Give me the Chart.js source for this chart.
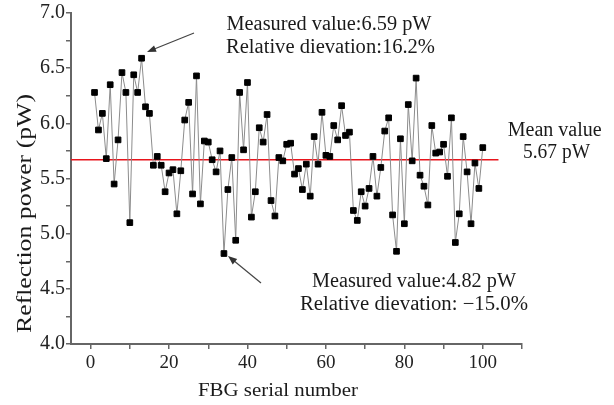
<!DOCTYPE html>
<html>
<head>
<meta charset="utf-8">
<script src="https://cdn.jsdelivr.net/npm/chart.js@4"></script>
<style>
  body { margin: 0; background: #fff; }
  #wrap { width: 614px; height: 405px; }
</style>
</head>
<body>
<div id="wrap"><canvas id="fbgChart" width="614" height="405"></canvas></div>
<script>
// FBG serial numbers 1..100 and measured reflection power (pW)
const serials = Array.from({ length: 100 }, (_, i) => i + 1);
const power = [
  6.28, 5.94, 6.09, 5.68, 6.35, 5.45, 5.85, 6.46, 6.28, 5.10,
  6.44, 6.28, 6.59, 6.15, 6.09, 5.62, 5.70, 5.62, 5.38, 5.55,
  5.58, 5.18, 5.57, 6.03, 6.19, 5.36, 6.43, 5.27, 5.84, 5.83,
  5.67, 5.56, 5.75, 4.82, 5.40, 5.69, 4.94, 6.28, 5.76, 6.37,
  5.15, 5.38, 5.96, 5.83, 6.08, 5.30, 5.16, 5.69, 5.66, 5.81,
  5.82, 5.54, 5.59, 5.40, 5.63, 5.34, 5.88, 5.63, 6.10, 5.71,
  5.70, 5.98, 5.85, 6.16, 5.89, 5.92, 5.21, 5.12, 5.38, 5.25,
  5.41, 5.70, 5.34, 5.60, 5.93, 6.05, 5.17, 4.84, 5.86, 5.09,
  6.17, 5.66, 6.41, 5.53, 5.43, 5.26, 5.98, 5.73, 5.74, 5.81,
  5.52, 6.05, 4.92, 5.18, 5.88, 5.56, 5.09, 5.64, 5.41, 5.78
];
const meanValue = 5.67;
const meanSpan = [-5, 104];
const xTicks = [0, 10, 20, 30, 40, 50, 60, 70, 80, 90, 100, 110];

const serif = '"Liberation Serif", "Times New Roman", serif';
const axisGray = '#666';

// draw text squeezed/stretched to a given width
function fitText(ctx, text, cx, y, w, size, rot) {
  ctx.save();
  ctx.font = size + 'px ' + serif;
  const m = ctx.measureText(text).width;
  ctx.translate(cx, y);
  if (rot) ctx.rotate(rot);
  ctx.scale(w / m, 1);
  ctx.textAlign = 'center';
  ctx.fillText(text, 0, 0);
  ctx.restore();
}

function arrow(ctx, x1, y1, x2, y2) {
  const a = Math.atan2(y2 - y1, x2 - x1);
  const hl = 9, hw = 3.5;
  ctx.save();
  ctx.strokeStyle = '#444';
  ctx.fillStyle = '#333';
  ctx.lineWidth = 1.2;
  ctx.beginPath();
  ctx.moveTo(x1, y1);
  ctx.lineTo(x2 - Math.cos(a) * hl * 0.8, y2 - Math.sin(a) * hl * 0.8);
  ctx.stroke();
  ctx.beginPath();
  ctx.moveTo(x2, y2);
  ctx.lineTo(x2 - Math.cos(a) * hl + Math.sin(a) * hw, y2 - Math.sin(a) * hl - Math.cos(a) * hw);
  ctx.lineTo(x2 - Math.cos(a) * hl - Math.sin(a) * hw, y2 - Math.sin(a) * hl + Math.cos(a) * hw);
  ctx.closePath();
  ctx.fill();
  ctx.restore();
}

const notes = {
  id: 'notes',
  afterDraw(chart) {
    const ctx = chart.ctx;
    ctx.fillStyle = '#1a1a1a';
    fitText(ctx, 'Measured value:6.59 pW', 329, 30, 205, 20);
    fitText(ctx, 'Relative dievation:16.2%', 330.5, 53, 209, 20);
    fitText(ctx, 'Measured value:4.82 pW', 414, 287, 204, 20);
    fitText(ctx, 'Relative dievation: \u221215.0%', 414, 310, 228, 20);
    fitText(ctx, 'Mean value', 554.7, 136, 94, 20);
    fitText(ctx, '5.67 pW', 556.5, 158, 67, 20);
    fitText(ctx, 'FBG serial number', 278, 396, 160, 19);
    fitText(ctx, 'Reflection power (pW)', 31, 213.5, 239, 20, -Math.PI / 2);
    arrow(ctx, 194, 33, 147, 52);
    arrow(ctx, 261, 283, 228, 256);
  }
};

new Chart(document.getElementById('fbgChart'), {
  type: 'line',
  data: {
    datasets: [{
      data: serials.map((s, i) => ({ x: s, y: power[i] })),
      borderColor: '#8c8c8c',
      borderWidth: 1,
      pointStyle: 'rect',
      pointRadius: 4,
      pointBackgroundColor: '#000',
      pointBorderColor: '#000',
      pointBorderWidth: 1,
      tension: 0
    }, {
      data: meanSpan.map(x => ({ x: x, y: meanValue })),
      borderColor: '#e8141c',
      borderWidth: 1.5,
      pointRadius: 0
    }]
  },
  options: {
    responsive: false,
    animation: false,
    layout: { padding: { top: 13, right: 92, left: 0, bottom: 0 } },
    plugins: { legend: { display: false }, tooltip: { enabled: false } },
    scales: {
      x: {
        type: 'linear',
        min: -5,
        max: 110,
        afterBuildTicks: s => { s.ticks = xTicks.map(v => ({ value: v })); },
        afterFit: s => { s.height = 61; },
        border: { color: axisGray, width: 2 },
        grid: { drawOnChartArea: false, tickLength: 5, color: axisGray, lineWidth: 1.5 },
        ticks: {
          autoSkip: false,
          maxRotation: 0,
          padding: 3,
          color: '#222',
          font: { family: serif, size: 19 },
          callback: v => (v % 20 === 0 && v <= 100 ? String(v) : '')
        }
      },
      y: {
        min: 4,
        max: 7,
        afterFit: s => { s.width = 71; },
        border: { color: axisGray, width: 2 },
        grid: { drawOnChartArea: false, tickLength: 5, color: axisGray, lineWidth: 1.5 },
        ticks: {
          stepSize: 0.25,
          autoSkip: false,
          padding: 1,
          color: '#222',
          font: { family: serif, size: 20 },
          callback: v => (Math.abs(v * 2 - Math.round(v * 2)) < 1e-6 ? v.toFixed(1) : '')
        }
      }
    }
  },
  plugins: [notes]
});
</script>
</body>
</html>
